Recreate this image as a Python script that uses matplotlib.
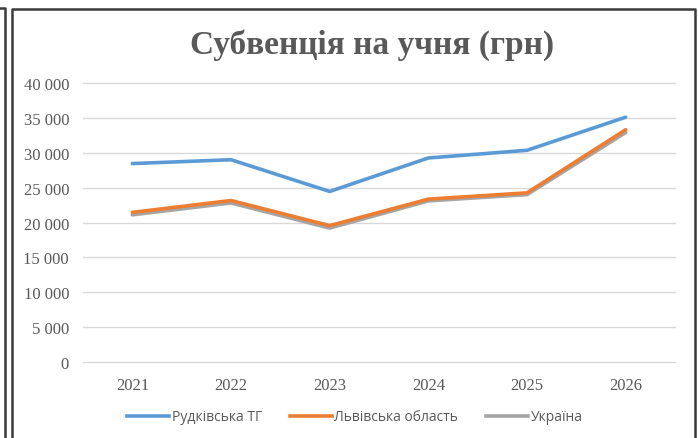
import matplotlib.pyplot as plt
from matplotlib.lines import Line2D
from matplotlib.ticker import FuncFormatter

years = ["2021", "2022", "2023", "2024", "2025", "2026"]
rudky = [28450, 29000, 24450, 29250, 30350, 35100]
lviv = [21450, 23150, 19550, 23350, 24250, 33300]
ukraine = [21100, 22800, 19200, 23100, 24000, 32900]
series_names = ["Рудківська ТГ", "Львівська область", "Україна"]

W, H = 698, 439
fig = plt.figure(figsize=(W / 100, H / 100), dpi=100)

# рамки як на скріншоті
def px_line(xs, ys, lw=2.0, color="#3a3a3a"):
    fig.add_artist(Line2D([x / W for x in xs], [1 - y / H for y in ys],
                          transform=fig.transFigure, color=color, lw=lw))

px_line([0, 4.5, 4.5], [9, 9, H], lw=1.8)
px_line([12, 12, 694.5, 694.5], [H, 9.5, 9.5, H], lw=1.8)

ax = fig.add_axes([83 / W, 76 / H, (675 - 83) / W, (363 - 84) / H])
x = range(len(years))
ax.plot(x, ukraine, color="#a5a5a5", lw=2.6, zorder=3, solid_capstyle="round")
ax.plot(x, lviv, color="#ed7d31", lw=2.6, zorder=4, solid_capstyle="round")
ax.plot(x, rudky, color="#5b9bd5", lw=2.6, zorder=5, solid_capstyle="round")

ax.set_xlim(-0.5, len(years) - 0.5)
ax.set_ylim(0, 40000)
ax.set_yticks(range(0, 40001, 5000))
ax.yaxis.set_major_formatter(FuncFormatter(lambda v, p: f"{int(v):,}".replace(",", " ")))
ax.set_xticks(list(x))
ax.set_xticklabels(years)
ax.grid(axis="y", color="#d9d9d9", lw=1.0)
for gl in ax.get_ygridlines():
    gl.set_clip_on(False)
ax.set_axisbelow(True)
for s in ax.spines.values():
    s.set_visible(False)
ax.tick_params(length=0, labelsize=12, colors="#595959", pad=10)
ax.tick_params(axis="x", pad=11)
for lab in ax.get_xticklabels() + ax.get_yticklabels():
    lab.set_fontfamily("Liberation Serif")

fig.text(372 / W, 1 - 45 / H, "Субвенція на учня (грн)", ha="center", va="center",
         fontsize=24, fontweight="bold", color="#595959", family="Liberation Serif")

handles = [Line2D([], [], color=c, lw=2.6) for c in ["#5b9bd5", "#ed7d31", "#a5a5a5"]]
fig.legend(handles, series_names, loc="center", bbox_to_anchor=(355 / W, 1 - 418 / H),
           ncol=3, frameon=False, handlelength=3.0, handletextpad=0.2, columnspacing=2.0,
           prop={"family": "Open Sans", "size": 10}, labelcolor="#595959")

fig.savefig("out.png", dpi=100, facecolor="white")
